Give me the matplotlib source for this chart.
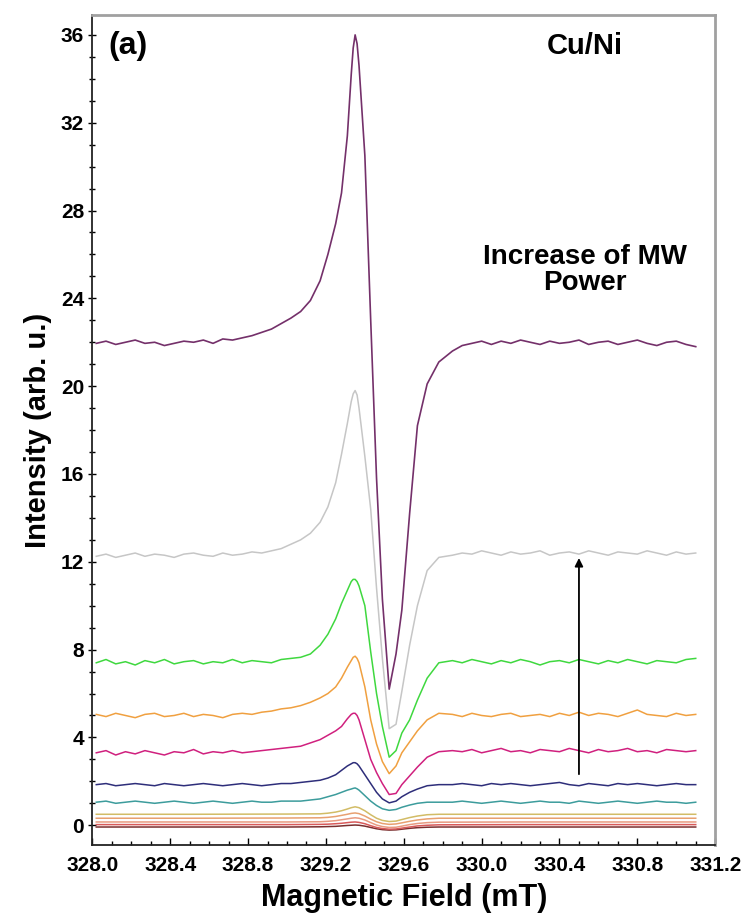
# epr spectra vs microwave power, Cu/Ni sample

import matplotlib
matplotlib.use('Agg')
from matplotlib import pyplot as plt
from matplotlib.ticker import MultipleLocator, FormatStrFormatter

# magnetic field grid (mT) shared by the big traces
field = [328.02, 328.07, 328.12, 328.17, 328.22, 328.27, 328.32, 328.37, 328.42, 328.47, 328.52,
         328.57, 328.62, 328.67, 328.72, 328.77, 328.82, 328.87, 328.92, 328.97, 329.02, 329.07,
         329.12, 329.17, 329.21, 329.25, 329.28, 329.31, 329.33, 329.34, 329.35, 329.36, 329.37,
         329.40, 329.43, 329.46, 329.49, 329.525, 329.56, 329.59, 329.63, 329.67, 329.72, 329.78,
         329.85, 329.90, 329.95, 330.00, 330.05, 330.10, 330.15, 330.20, 330.25, 330.30, 330.35,
         330.40, 330.45, 330.50, 330.55, 330.60, 330.65, 330.70, 330.75, 330.80, 330.85, 330.90,
         330.95, 331.00, 331.05, 331.10]

purple = [21.95, 22.05, 21.90, 22.00, 22.10, 21.95, 22.00, 21.85, 21.95, 22.05, 22.00,
          22.10, 21.95, 22.15, 22.10, 22.20, 22.30, 22.45, 22.60, 22.85, 23.10, 23.40,
          23.90, 24.80, 26.00, 27.40, 28.80, 31.40, 34.20, 35.40, 36.00, 35.60, 34.60,
          30.50, 23.00, 15.80, 10.30, 6.20, 7.80, 9.80, 14.20, 18.20, 20.10, 21.10,
          21.60, 21.85, 21.95, 22.05, 21.90, 22.05, 21.95, 22.10, 22.00, 21.90, 22.05,
          21.95, 22.00, 22.10, 21.90, 22.00, 22.05, 21.90, 22.00, 22.10, 21.95, 21.85,
          22.00, 22.05, 21.90, 21.80]

gray = [12.25, 12.35, 12.20, 12.30, 12.40, 12.25, 12.35, 12.30, 12.20, 12.35, 12.40,
        12.30, 12.25, 12.40, 12.30, 12.35, 12.45, 12.40, 12.50, 12.60, 12.80, 13.00,
        13.30, 13.80, 14.50, 15.60, 16.90, 18.30, 19.30, 19.65, 19.80, 19.60, 19.00,
        16.80, 14.40, 10.80, 7.60, 4.40, 4.60, 6.10, 8.20, 10.00, 11.60, 12.20,
        12.30, 12.40, 12.35, 12.50, 12.40, 12.30, 12.45, 12.35, 12.40, 12.50, 12.30,
        12.40, 12.45, 12.35, 12.50, 12.40, 12.30, 12.45, 12.40, 12.35, 12.50, 12.40,
        12.30, 12.45, 12.35, 12.40]

green = [7.40, 7.55, 7.35, 7.45, 7.30, 7.50, 7.40, 7.55, 7.35, 7.45, 7.50,
         7.35, 7.45, 7.40, 7.55, 7.40, 7.50, 7.45, 7.40, 7.55, 7.60, 7.65,
         7.80, 8.20, 8.70, 9.40, 10.10, 10.70, 11.10, 11.20, 11.20, 11.10, 10.90,
         10.00, 7.90, 6.00, 4.50, 3.10, 3.40, 4.20, 4.80, 5.70, 6.70, 7.40,
         7.50, 7.40, 7.55, 7.45, 7.35, 7.50, 7.40, 7.55, 7.45, 7.30, 7.45,
         7.50, 7.40, 7.55, 7.45, 7.35, 7.50, 7.40, 7.55, 7.45, 7.35, 7.50,
         7.45, 7.40, 7.55, 7.60]

orange = [5.05, 4.95, 5.10, 5.00, 4.90, 5.05, 5.10, 4.95, 5.00, 5.10, 4.95,
          5.05, 5.00, 4.90, 5.05, 5.10, 5.05, 5.15, 5.20, 5.30, 5.35, 5.45,
          5.60, 5.80, 6.00, 6.30, 6.70, 7.20, 7.50, 7.65, 7.70, 7.60, 7.40,
          6.30, 4.80, 3.70, 2.90, 2.35, 2.70, 3.30, 3.80, 4.30, 4.80, 5.10,
          5.05, 4.95, 5.10, 5.00, 4.95, 5.05, 5.10, 4.95, 5.00, 5.05, 4.95,
          5.10, 5.00, 5.15, 5.00, 5.10, 5.05, 4.95, 5.10, 5.25, 5.05, 5.00,
          4.95, 5.10, 5.00, 5.05]

magenta = [3.30, 3.40, 3.20, 3.35, 3.25, 3.40, 3.30, 3.20, 3.35, 3.30, 3.45,
           3.25, 3.35, 3.30, 3.40, 3.30, 3.35, 3.40, 3.45, 3.50, 3.55, 3.60,
           3.75, 3.90, 4.10, 4.30, 4.50, 4.85, 5.05, 5.10, 5.10, 5.00, 4.80,
           3.90, 3.00, 2.40, 1.90, 1.40, 1.45, 1.85, 2.25, 2.65, 3.10, 3.35,
           3.40, 3.35, 3.45, 3.30, 3.40, 3.50, 3.35, 3.40, 3.30, 3.45, 3.40,
           3.35, 3.50, 3.40, 3.30, 3.45, 3.35, 3.40, 3.50, 3.35, 3.40, 3.30,
           3.45, 3.40, 3.35, 3.40]

navy = [1.85, 1.90, 1.80, 1.85, 1.90, 1.85, 1.80, 1.90, 1.85, 1.80, 1.85,
        1.90, 1.85, 1.80, 1.85, 1.90, 1.85, 1.80, 1.85, 1.90, 1.90, 1.95,
        2.00, 2.05, 2.15, 2.30, 2.50, 2.70, 2.80, 2.85, 2.85, 2.80, 2.70,
        2.30, 1.90, 1.50, 1.20, 1.02, 1.10, 1.30, 1.50, 1.65, 1.80, 1.85,
        1.85, 1.90, 1.85, 1.80, 1.90, 1.85, 1.90, 1.85, 1.80, 1.85, 1.90,
        1.95, 1.85, 1.80, 1.90, 1.85, 1.80, 1.90, 1.85, 1.90, 1.85, 1.80,
        1.85, 1.90, 1.85, 1.85]

teal = [1.05, 1.10, 1.00, 1.05, 1.10, 1.05, 1.00, 1.05, 1.10, 1.05, 1.00,
        1.05, 1.10, 1.05, 1.00, 1.05, 1.10, 1.05, 1.05, 1.10, 1.10, 1.10,
        1.15, 1.20, 1.30, 1.40, 1.50, 1.60, 1.65, 1.68, 1.70, 1.66, 1.60,
        1.35, 1.10, 0.90, 0.75, 0.68, 0.72, 0.82, 0.92, 1.00, 1.05, 1.05,
        1.05, 1.10, 1.05, 1.00, 1.05, 1.10, 1.05, 1.00, 1.05, 1.10, 1.05,
        1.05, 1.00, 1.10, 1.05, 1.00, 1.05, 1.10, 1.05, 1.00, 1.05, 1.10,
        1.05, 1.05, 1.00, 1.05]

# lowest power traces, nearly flat
field_low = [328.02, 328.5, 329.0, 329.17, 329.21, 329.25, 329.28, 329.31, 329.33, 329.35,
             329.37, 329.40, 329.43, 329.46, 329.49, 329.525, 329.56, 329.59, 329.63, 329.67,
             329.72, 329.78, 330.2, 330.7, 331.1]
olive = [0.50, 0.50, 0.51, 0.52, 0.55, 0.60, 0.66, 0.74, 0.80, 0.84, 0.80, 0.66, 0.48,
         0.32, 0.22, 0.17, 0.19, 0.26, 0.35, 0.42, 0.48, 0.50, 0.50, 0.50, 0.50]
tan = [0.32, 0.32, 0.33, 0.34, 0.36, 0.40, 0.45, 0.50, 0.54, 0.56, 0.53, 0.42, 0.28,
       0.16, 0.08, 0.04, 0.06, 0.11, 0.18, 0.24, 0.29, 0.32, 0.32, 0.32, 0.32]
salmon = [0.15, 0.15, 0.15, 0.16, 0.18, 0.21, 0.25, 0.29, 0.32, 0.34, 0.32, 0.24, 0.12,
          0.01, -0.06, -0.10, -0.09, -0.04, 0.03, 0.08, 0.12, 0.14, 0.15, 0.15, 0.15]
red = [0.03, 0.03, 0.03, 0.04, 0.05, 0.07, 0.09, 0.12, 0.14, 0.15, 0.13, 0.07, -0.02,
       -0.10, -0.15, -0.18, -0.17, -0.13, -0.08, -0.03, 0.00, 0.02, 0.03, 0.03, 0.03]
brown = [-0.08, -0.08, -0.08, -0.07, -0.06, -0.05, -0.03, -0.01, 0.00, 0.01, 0.00, -0.04, -0.10,
         -0.16, -0.20, -0.22, -0.21, -0.18, -0.14, -0.11, -0.09, -0.08, -0.08, -0.08, -0.08]

if __name__ == "__main__":

    plt.rcParams['font.family'] = 'Liberation Sans'
    plt.rcParams['font.weight'] = 'bold'

    f = plt.figure(figsize=(7.45, 9.17), dpi=100)
    ax1 = f.add_axes([0.124, 0.0785, 0.836, 0.905])

    # low power first so the strong traces sit on top
    ax1.plot(field_low, brown, color='#7a2e2e', lw=1.1)
    ax1.plot(field_low, red, color='#d85a5a', lw=1.1)
    ax1.plot(field_low, salmon, color='#e89a80', lw=1.1)
    ax1.plot(field_low, olive, color='#d2bc66', lw=1.1)
    ax1.plot(field_low, tan, color='#e8a070', lw=1.1)
    ax1.plot(field, teal, color='#3c9c9c', lw=1.1)
    ax1.plot(field, navy, color='#2e2e7a', lw=1.1)
    ax1.plot(field, magenta, color='#d0207e', lw=1.1)
    ax1.plot(field, orange, color='#f0a040', lw=1.1)
    ax1.plot(field, green, color='#3fd83f', lw=1.1)
    ax1.plot(field, gray, color='#c6c6c6', lw=1.1)
    ax1.plot(field, purple, color='#74306a', lw=1.2)

    # arrow for the microwave power direction
    ax1.annotate('', xy=(330.5, 12.3), xytext=(330.5, 2.2),
                 arrowprops=dict(arrowstyle='-|>', color='black', lw=1.3, mutation_scale=12))
    ax1.text(330.53, 25.3, 'Increase of MW\nPower', ha='center', va='center',
             fontsize=20, fontweight='bold', linespacing=1.0)
    ax1.text(0.025, 0.963, '(a)', transform=ax1.transAxes, ha='left', va='center',
             fontsize=23, fontweight='bold')
    ax1.text(0.79, 0.963, 'Cu/Ni', transform=ax1.transAxes, ha='center', va='center',
             fontsize=21, fontweight='bold')

    ax1.set_xlim([328.0, 331.2])
    ax1.set_ylim([-0.9, 36.9])
    ax1.xaxis.set_major_locator(MultipleLocator(0.4))
    ax1.xaxis.set_minor_locator(MultipleLocator(0.1))
    ax1.xaxis.set_major_formatter(FormatStrFormatter('%.1f'))
    ax1.yaxis.set_major_locator(MultipleLocator(4))
    ax1.yaxis.set_minor_locator(MultipleLocator(1))
    ax1.tick_params(axis='x', which='major', direction='in', length=5, width=1, labelsize=15, pad=8)
    ax1.tick_params(axis='x', which='minor', direction='in', length=3, width=1)
    ax1.tick_params(axis='y', which='major', direction='inout', length=6, width=1, labelsize=15, pad=3)
    ax1.tick_params(axis='y', which='minor', direction='inout', length=4, width=1)
    for lab in ax1.get_xticklabels() + ax1.get_yticklabels():
        lab.set_fontweight('bold')

    for s in ['left', 'bottom']:
        ax1.spines[s].set_color('#222222')
        ax1.spines[s].set_linewidth(1.3)
    for s in ['top', 'right']:
        ax1.spines[s].set_color('#a0a0a0')
        ax1.spines[s].set_linewidth(2.0)

    ax1.set_ylabel('Intensity (arb. u.)', fontsize=21, fontweight='bold', labelpad=6)
    ax1.set_xlabel('Magnetic Field (mT)', fontsize=22, fontweight='bold', labelpad=6)

    f.savefig('out.png', dpi=100)
